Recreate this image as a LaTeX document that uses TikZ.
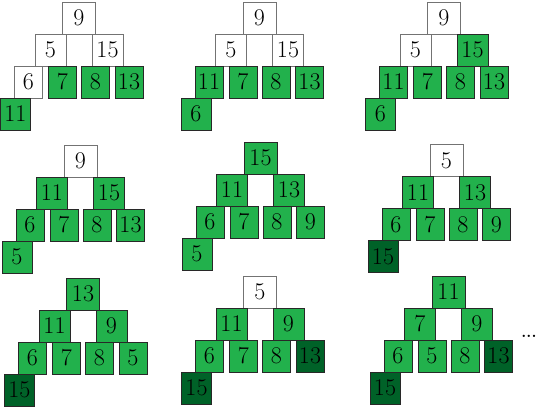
\documentclass[tikz,border=0pt]{standalone}
\usepackage{fontspec}
\definecolor{hgreen}{RGB}{34,177,76}
\definecolor{hdark}{RGB}{0,98,40}
\definecolor{hedge}{RGB}{40,40,40}
\tikzset{
  boxfont/.style={font=\fontsize{24}{24}\selectfont},
  box/.style={draw=hedge, line width=0.8pt, minimum height=32pt, inner sep=0pt, boxfont},
  wb/.style={box, fill=white, draw=black!55},
  gb/.style={box, fill=hgreen},
  db/.style={box, fill=hdark},
  r1/.style={minimum width=33pt},
  r2/.style={minimum width=31pt},
  r3/.style={minimum width=28pt},
  r4/.style={minimum width=30pt}
}
% #1 name prefix, #2 x, #3 y, then style/value pairs
\newcommand{\heappanel}[9]{%
  \begin{scope}[shift={(#2,#3)}]
    \node[r1,#4] (#1a) at (0,0) {#5};
    \node[r2,#6] (#1b) at (-28.5,32) {#7};
    \node[r2,#8] (#1c) at (28.5,32) {#9};
  \end{scope}}
\newcommand{\heaprows}[9]{%
  \begin{scope}[shift={(#2,#3)}]
    \node[r3,#4] (#1d) at (-50.5,64) {#5};
    \node[r3,#6] (#1e) at (-16.5,64) {#7};
    \node[r3,#8] (#1f) at (16.5,64) {#9};
  \end{scope}}
\newcommand{\heaptail}[7]{%
  \begin{scope}[shift={(#2,#3)}]
    \node[r3,#4] (#1g) at (50,64) {#5};
    \node[r4,#6] (#1h) at (-63.5,96) {#7};
  \end{scope}}
\begin{document}
\begin{tikzpicture}[x=1pt,y=-1pt]
\useasboundingbox (0,0) rectangle (536,407);
% panel 1
\heappanel{pa}{79}{18}{wb}{9}{wb}{5}{wb}{15}
\heaprows{pa}{79}{18}{wb}{6}{gb}{7}{gb}{8}
\heaptail{pa}{79}{18}{gb}{13}{gb}{11}
% panel 2
\heappanel{pb}{259.5}{18}{wb}{9}{wb}{5}{wb}{15}
\heaprows{pb}{259.5}{18}{gb}{11}{gb}{7}{gb}{8}
\heaptail{pb}{259.5}{18}{gb}{13}{gb}{6}
% panel 3
\heappanel{pc}{444}{18}{wb}{9}{wb}{5}{gb}{15}
\heaprows{pc}{444}{18}{gb}{11}{gb}{7}{gb}{8}
\heaptail{pc}{444}{18}{gb}{13}{gb}{6}
% panel 4
\heappanel{pd}{80.5}{161}{wb}{9}{gb}{11}{gb}{15}
\heaprows{pd}{80.5}{161}{gb}{6}{gb}{7}{gb}{8}
\heaptail{pd}{80.5}{161}{gb}{13}{gb}{5}
% panel 5
\heappanel{pe}{260.5}{158}{gb}{15}{gb}{11}{gb}{13}
\heaprows{pe}{260.5}{158}{gb}{6}{gb}{7}{gb}{8}
\heaptail{pe}{260.5}{158}{gb}{9}{gb}{5}
% panel 6
\heappanel{pf}{446.5}{160.5}{wb}{5}{gb}{11}{gb}{13}
\heaprows{pf}{446.5}{160.5}{gb}{6}{gb}{7}{gb}{8}
\heaptail{pf}{446.5}{160.5}{gb}{9}{db}{15}
% panel 7
\heappanel{pg}{83}{294}{gb}{13}{gb}{11}{gb}{9}
\heaprows{pg}{83}{294}{gb}{6}{gb}{7}{gb}{8}
\heaptail{pg}{83}{294}{gb}{5}{db}{15}
% panel 8
\heappanel{ph}{260}{292}{wb}{5}{gb}{11}{gb}{9}
\heaprows{ph}{260}{292}{gb}{6}{gb}{7}{gb}{8}
\heaptail{ph}{260}{292}{db}{13}{db}{15}
% panel 9
\heappanel{pi}{448.5}{292}{gb}{11}{gb}{7}{gb}{9}
\heaprows{pi}{448.5}{292}{gb}{6}{gb}{5}{gb}{8}
\heaptail{pi}{448.5}{292}{db}{13}{db}{15}
% ellipsis
\node[inner sep=0pt, font=\fontsize{16}{16}\selectfont\bfseries] (dots) at (529,336) {...};
\end{tikzpicture}
\end{document}
